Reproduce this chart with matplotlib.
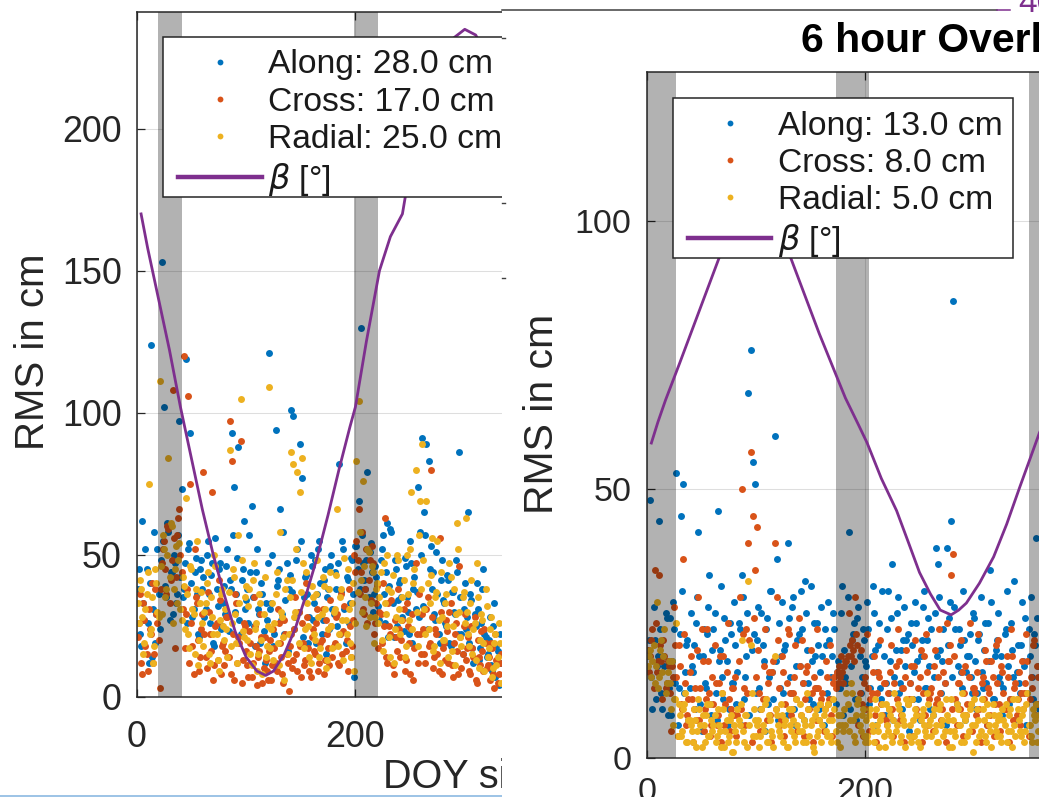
import numpy as np
import matplotlib
matplotlib.use('Agg')
import matplotlib.pyplot as plt
from matplotlib.patches import Rectangle
from matplotlib.lines import Line2D

W, H, DPI = 1039, 797, 100
C_ALONG, C_CROSS, C_RADIAL, C_BETA, C_AX = '#0072BD', '#D95319', '#EDB120', '#7E2F8E', '#262626'

plt.rcParams['font.family'] = ['Liberation Sans', 'DejaVu Sans']

# ---------------- data: left panel (odd days) ----------------
left_doy = np.arange(1, 334, 2)
left_along = [
    38, 22, 62, 27, 45, 12, 124, 31, 19, 52,
    24, 153, 102, 35, 58, 44, 29, 47, 36, 97,
    73, 38, 119, 52, 93, 28, 44, 36, 21, 48,
    42, 31, 55, 26, 47, 18, 38, 45, 24, 33,
    29, 52, 41, 93, 74, 36, 88, 22, 45, 31,
    38, 57, 67, 25, 44, 31, 19, 36, 12, 27,
    121, 33, 18, 94, 41, 66, 29, 22, 47, 38,
    101, 99, 28, 52, 89, 77, 35, 43, 19, 50,
    27, 48, 36, 55, 22, 41, 15, 38, 46, 31,
    44, 25, 82, 37, 52, 19, 41, 33, 48, 7,
    53, 69, 130, 47, 38, 79, 51, 44, 36, 42,
    32, 48, 57, 26, 61, 39, 58, 21, 45, 34,
    41, 28, 49, 35, 22, 47, 38, 31, 74, 58,
    91, 65, 89, 83, 53, 44, 27, 36, 19, 48,
    33, 25, 41, 18, 37, 29, 44, 86, 22, 31,
    24, 65, 36, 17, 29, 40, 13, 26, 45, 21,
    15, 28, 9, 33, 18, 4, 12]
left_cross = [
    21, 36, 8, 27, 15, 31, 22, 12, 38, 26,
    3, 47, 55, 36, 59, 41, 108, 17, 57, 66,
    44, 120, 29, 106, 75, 18, 52, 33, 9, 24,
    79, 14, 37, 22, 72, 11, 26, 41, 8, 19,
    16, 28, 97, 83, 6, 33, 21, 90, 13, 25,
    11, 23, 7, 35, 18, 14, 29, 5, 21, 9,
    16, 6, 24, 12, 31, 19, 8, 27, 15, 2,
    22, 13, 35, 9, 18, 26, 11, 40, 17, 7,
    24, 15, 31, 12, 20, 8, 27, 17, 34, 14,
    19, 29, 11, 36, 23, 16, 9, 25, 18, 50,
    55, 66, 44, 31, 38, 26, 48, 53, 22, 33,
    17, 29, 40, 63, 12, 25, 34, 8, 21, 38,
    14, 27, 9, 33, 19, 24, 6, 47, 12, 22,
    29, 15, 31, 18, 80, 10, 24, 15, 56, 8,
    19, 27, 12, 33, 7, 22, 16, 46, 10, 25,
    13, 21, 8, 17, 28, 5, 14, 23, 9, 19,
    11, 6, 17, 3, 13, 8, 15]
left_radial = [
    33, 41, 28, 19, 36, 75, 24, 12, 45, 30,
    111, 29, 52, 38, 84, 61, 26, 45, 33, 54,
    27, 39, 70, 22, 46, 31, 15, 55, 20, 37,
    18, 33, 44, 12, 28, 50, 22, 9, 36, 25,
    31, 14, 87, 26, 42, 19, 57, 105, 23, 35,
    20, 38, 11, 47, 26, 15, 33, 8, 42, 18,
    109, 24, 13, 36, 19, 58, 28, 6, 41, 22,
    86, 82, 30, 79, 72, 84, 17, 44, 25, 12,
    35, 20, 48, 14, 29, 39, 10, 24, 44, 17,
    31, 66, 22, 38, 13, 27, 45, 19, 33, 9,
    83, 104, 41, 76, 35, 52, 28, 46, 19, 38,
    26, 44, 16, 33, 50, 21, 37, 12, 28, 48,
    22, 35, 14, 50, 27, 72, 40, 80, 18, 69,
    89, 31, 69, 24, 43, 16, 35, 55, 12, 28,
    20, 36, 14, 42, 25, 11, 61, 30, 18, 37,
    63, 22, 33, 15, 26, 47, 10, 29, 19, 38,
    14, 24, 7, 19, 11, 26, 5]

# ---------------- data: left panel (even days) ----------------
left_doy_b = np.arange(2, 334, 2)
left_along_b = [
    45, 18, 33, 52, 26, 40, 14, 58, 29, 36,
    48, 55, 39, 61, 27, 44, 50, 33, 57, 42,
    35, 47, 26, 54, 40, 31, 49, 22, 45, 38,
    28, 50, 36, 43, 19, 56, 32, 47, 25, 39,
    46, 23, 38, 57, 30, 49, 27, 41, 62, 34,
    26, 44, 35, 18, 52, 29, 40, 23, 33, 47,
    31, 50, 22, 39, 45, 27, 58, 34, 16, 43,
    37, 24, 48, 30, 55, 21, 42, 36, 28, 46,
    33, 19, 52, 40, 27, 45, 35, 24, 50, 29,
    38, 47, 22, 55, 31, 42, 26, 49, 36, 53,
    45, 38, 57, 41, 48, 35, 54, 30, 46, 40,
    27, 52, 36, 44, 21, 59, 33, 48, 25, 40,
    35, 23, 46, 30, 55, 19, 42, 37, 28, 50,
    32, 57, 24, 45, 38, 29, 51, 22, 41, 34,
    26, 43, 19, 37, 30, 48, 22, 35, 15, 40,
    28, 19, 34, 12, 25, 31, 17, 38, 22, 14,
    20, 11, 25, 7, 16, 22]
left_cross_b = [
    26, 12, 33, 18, 9, 24, 40, 15, 29, 20,
    38, 52, 45, 60, 33, 48, 56, 42, 63, 50,
    31, 17, 38, 12, 26, 8, 35, 20, 14, 29,
    22, 10, 30, 16, 6, 25, 13, 34, 18, 11,
    28, 14, 8, 22, 36, 12, 19, 5, 26, 16,
    7, 19, 12, 25, 4, 16, 21, 10, 13, 6,
    20, 11, 17, 9, 26, 14, 5, 22, 12, 18,
    10, 24, 15, 30, 7, 19, 13, 28, 9, 21,
    16, 26, 9, 19, 31, 13, 22, 11, 25, 18,
    28, 12, 22, 15, 32, 20, 38, 14, 27, 44,
    48, 36, 58, 29, 52, 41, 34, 47, 26, 39,
    30, 19, 25, 14, 33, 22, 11, 27, 16, 24,
    20, 31, 13, 25, 8, 29, 17, 22, 36, 15,
    24, 12, 35, 19, 28, 14, 22, 9, 30, 17,
    13, 23, 30, 11, 19, 26, 8, 21, 15, 29,
    17, 9, 25, 14, 6, 20, 11, 16, 24, 10,
    14, 19, 8, 22, 5, 12]
left_radial_b = [
    26, 38, 15, 31, 44, 22, 35, 18, 40, 28,
    46, 57, 35, 50, 42, 60, 38, 53, 48, 31,
    42, 24, 36, 17, 45, 29, 38, 11, 33, 26,
    30, 40, 15, 35, 22, 46, 13, 27, 38, 20,
    24, 37, 18, 45, 29, 12, 33, 48, 21, 39,
    32, 15, 41, 24, 9, 36, 20, 29, 14, 25,
    17, 33, 26, 44, 11, 30, 21, 38, 15, 35,
    41, 28, 52, 19, 37, 47, 24, 33, 14, 39,
    22, 36, 28, 17, 42, 31, 13, 38, 25, 30,
    43, 18, 35, 27, 49, 22, 31, 14, 40, 26,
    37, 58, 30, 46, 25, 51, 33, 44, 28, 40,
    35, 20, 47, 29, 38, 14, 43, 24, 50, 31,
    27, 41, 18, 36, 52, 24, 45, 30, 57, 38,
    48, 22, 40, 33, 56, 18, 37, 27, 44, 20,
    33, 25, 47, 16, 38, 29, 52, 21, 35, 26,
    30, 18, 41, 24, 13, 35, 20, 27, 9, 32,
    17, 28, 10, 22, 14, 19]

left_beta_doy = [4, 10, 20, 30, 40, 50, 60, 70, 80, 90, 100, 110, 118, 125, 135, 145, 155, 165,
                 175, 185, 195, 200, 210, 222, 232, 243, 250, 260, 270, 280, 290, 300, 310, 320, 330, 340]
left_beta = [170, 158, 140, 122, 102, 84, 66, 50, 36, 23, 14, 9, 7.5, 9, 15, 24, 36, 49,
             64, 80, 95, 102, 125, 150, 162, 170, 186, 204, 217, 226, 232, 235, 233, 226, 215, 200]
left_bands = [(19.5, 41.0), (199.0, 221.0)]
left_labels = ['Along: 28.0 cm', 'Cross: 17.0 cm', 'Radial: 25.0 cm', r'$\beta$ [°]']

# ---------------- data: right panel (odd days) ----------------
right_doy = np.arange(1, 360, 2)
right_along = [
    19, 48, 9, 22, 17, 44, 12, 19, 27, 8,
    26, 18, 24, 53, 13, 45, 51, 16, 22, 13,
    17, 21, 25, 42, 10, 19, 14, 23, 34, 8,
    24, 12, 46, 20, 15, 26, 18, 9, 23, 14,
    21, 16, 24, 34, 11, 19, 68, 76, 55, 51,
    22, 13, 27, 18, 24, 10, 31, 16, 60, 37,
    25, 19, 12, 21, 40, 15, 28, 9, 17, 23,
    31, 14, 33, 20, 11, 18, 25, 13, 21, 16,
    19, 24, 12, 22, 15, 27, 10, 18, 13, 32,
    20, 14, 42, 17, 23, 11, 26, 19, 15, 22,
    17, 24, 13, 32, 20, 16, 25, 11, 19, 14,
    31, 18, 36, 15, 27, 12, 20, 22, 17, 23,
    14, 21, 16, 25, 11, 19, 28, 13, 22, 17,
    24, 15, 39, 36, 20, 18, 14, 39, 26, 44,
    85, 24, 17, 21, 13, 22, 16, 19, 15, 27,
    18, 12, 23, 16, 20, 14, 25, 35, 11, 19,
    22, 15, 19, 13, 24, 17, 11, 20, 33, 16,
    14, 21, 18, 26, 12, 19, 15, 23, 41, 17]
right_cross = [
    20, 19, 24, 35, 16, 34, 18, 22, 13, 18,
    12, 17, 28, 15, 21, 10, 37, 14, 8, 16,
    11, 9, 7, 30, 13, 18, 9, 24, 12, 6,
    10, 14, 8, 19, 12, 6, 16, 11, 9, 13,
    15, 8, 30, 50, 13, 24, 40, 57, 45, 35,
    43, 12, 9, 17, 11, 14, 8, 16, 40, 30,
    13, 7, 16, 10, 24, 12, 9, 15, 11, 26,
    8, 14, 11, 17, 9, 12, 15, 7, 13, 10,
    12, 9, 15, 11, 8, 14, 13, 14, 15, 16,
    17, 18, 27, 19, 20, 30, 21, 12, 10, 14,
    9, 13, 11, 16, 8, 12, 15, 10, 14, 7,
    12, 16, 9, 14, 11, 18, 8, 13, 15, 10,
    14, 11, 17, 9, 13, 20, 12, 8, 16, 11,
    13, 17, 10, 15, 12, 9, 14, 25, 18, 34,
    38, 11, 14, 9, 16, 12, 8, 15, 10, 13,
    12, 16, 9, 14, 11, 18, 13, 8, 15, 10,
    14, 10, 17, 12, 9, 15, 11, 19, 13, 8,
    16, 12, 9, 14, 18, 11, 13, 22, 10, 15]
right_radial = [
    17, 20, 18, 14, 29, 15, 22, 19, 12, 16,
    14, 18, 11, 25, 10, 4, 9, 12, 3, 7,
    5, 9, 2, 11, 6, 8, 3, 10, 4, 7,
    6, 3, 9, 5, 12, 2, 7, 4, 8, 1,
    5, 9, 6, 22, 3, 8, 33, 21, 4, 7,
    6, 2, 9, 5, 11, 3, 7, 4, 19, 8,
    5, 10, 3, 7, 2, 6, 9, 4, 11, 5,
    8, 3, 6, 12, 4, 7, 1, 9, 5, 10,
    6, 9, 4, 7, 3, 11, 5, 8, 2, 6,
    9, 12, 5, 14, 7, 3, 10, 6, 8, 4,
    7, 3, 9, 5, 11, 6, 2, 8, 4, 10,
    5, 8, 3, 12, 6, 9, 4, 7, 2, 10,
    6, 11, 4, 8, 3, 7, 9, 5, 12, 6,
    4, 9, 6, 3, 10, 7, 5, 8, 2, 11,
    7, 4, 9, 6, 12, 3, 8, 5, 10, 1,
    6, 9, 4, 11, 7, 3, 8, 5, 10, 6,
    4, 8, 3, 7, 10, 5, 9, 2, 6, 11,
    7, 4, 9, 5, 12, 6, 3, 8, 10, 5]

# ---------------- data: right panel (even days) ----------------
right_doy_b = np.arange(2, 361, 2)
right_along_b = [
    22, 15, 28, 11, 19, 24, 9, 17, 26, 13,
    8, 29, 14, 6, 23, 31, 12, 21, 7, 27,
    16, 9, 30, 19, 5, 24, 13, 28, 10, 20,
    27, 7, 18, 32, 11, 22, 6, 25, 14, 29,
    10, 25, 6, 30, 15, 27, 8, 20, 23, 12,
    28, 9, 21, 5, 26, 15, 31, 11, 18, 7,
    13, 29, 20, 8, 26, 12, 30, 6, 22, 17,
    24, 7, 27, 14, 32, 10, 19, 25, 9, 28,
    6, 21, 29, 11, 19, 24, 16, 13, 27, 8,
    15, 30, 9, 22, 25, 7, 28, 12, 24, 18,
    29, 10, 19, 27, 6, 21, 13, 31, 8, 24,
    12, 26, 7, 20, 30, 14, 9, 28, 22, 5,
    25, 11, 29, 18, 7, 22, 31, 13, 26, 9,
    8, 27, 19, 30, 12, 24, 6, 21, 29, 15,
    28, 10, 24, 16, 31, 7, 19, 23, 12, 26,
    9, 22, 30, 13, 25, 6, 18, 29, 11, 20,
    27, 14, 8, 23, 31, 10, 25, 15, 7, 21,
    12, 29, 17, 6, 24, 30, 11, 21, 26, 9]
right_cross_b = [
    16, 22, 13, 25, 18, 21, 11, 19, 14, 17,
    5, 15, 21, 4, 17, 9, 23, 6, 11, 19,
    3, 13, 20, 7, 24, 5, 11, 18, 4, 15,
    21, 6, 14, 3, 19, 10, 25, 5, 13, 8,
    4, 18, 9, 23, 6, 12, 22, 3, 26, 15,
    20, 5, 11, 24, 7, 16, 3, 18, 9, 22,
    6, 19, 4, 14, 23, 8, 12, 21, 5, 17,
    22, 4, 16, 9, 20, 3, 13, 24, 7, 11,
    5, 18, 10, 21, 4, 15, 16, 17, 19, 14,
    18, 19, 21, 22, 18, 23, 6, 20, 4, 15,
    23, 5, 12, 19, 3, 16, 22, 8, 14, 6,
    9, 21, 4, 17, 24, 7, 13, 3, 20, 11,
    17, 4, 22, 8, 15, 3, 19, 23, 6, 12,
    5, 20, 11, 24, 7, 16, 3, 18, 21, 9,
    19, 6, 14, 22, 4, 17, 10, 25, 5, 13,
    8, 23, 3, 15, 20, 6, 12, 18, 4, 21,
    22, 5, 16, 9, 19, 3, 24, 7, 14, 11,
    6, 18, 12, 23, 4, 15, 21, 8, 17, 10]
right_radial_b = [
    19, 15, 21, 17, 13, 20, 16, 24, 14, 18,
    9, 6, 11, 4, 8, 5, 10, 3, 7, 6,
    3, 7, 5, 9, 2, 6, 8, 4, 10, 5,
    8, 4, 6, 2, 9, 5, 3, 7, 1, 6,
    3, 7, 10, 5, 8, 2, 6, 12, 9, 4,
    7, 4, 6, 10, 3, 8, 5, 2, 9, 6,
    4, 8, 6, 2, 9, 5, 7, 3, 6, 10,
    5, 7, 3, 9, 6, 2, 8, 4, 7, 3,
    8, 5, 10, 4, 7, 9, 3, 6, 8, 5,
    6, 10, 7, 12, 4, 8, 11, 5, 9, 3,
    4, 8, 6, 3, 9, 5, 7, 10, 2, 6,
    9, 4, 7, 5, 10, 3, 8, 6, 11, 4,
    3, 7, 9, 5, 2, 8, 6, 4, 10, 7,
    8, 5, 3, 9, 6, 4, 11, 7, 5, 2,
    5, 10, 6, 3, 8, 7, 4, 9, 6, 11,
    3, 7, 5, 9, 4, 10, 6, 2, 8, 5,
    7, 4, 9, 6, 3, 8, 5, 11, 4, 9,
    5, 8, 3, 10, 6, 4, 9, 7, 3, 8]

right_beta_doy = [4, 10, 17, 30, 42, 54, 66, 78, 90, 99, 108, 120, 132, 145, 158, 170, 182, 194,
                  202, 215, 229, 240, 250, 260, 269, 279, 286, 293, 305, 318, 330, 342, 352, 360, 370]
right_beta = [58.6, 62.5, 66.6, 73.5, 80, 86.5, 93, 99, 104, 106, 104, 99, 93, 86, 79, 73, 67, 62,
              58.6, 52, 46, 40, 34.5, 30.5, 27.5, 26.6, 27.5, 28.8, 32.5, 37.4, 43.5, 50.4, 56, 60.5, 65]
right_bands = [(0.0, 26.3), (173.5, 204.0), (350.0, 420.0)]
right_labels = ['Along: 13.0 cm', 'Cross: 8.0 cm', 'Radial: 5.0 cm', r'$\beta$ [°]']

# ---------------- figure ----------------
fig = plt.figure(figsize=(W / DPI, H / DPI), dpi=DPI)


def fx(x):
    return x / W


def fy(y):
    return 1 - y / H


def make_ax(x0, ytop, ybot, xpu, xmax, z):
    ax = fig.add_axes([fx(x0), fy(ybot), xmax * xpu / W, (ybot - ytop) / H])
    ax.set_zorder(z)
    return ax


def draw_panel(ax, xmax, ymax, doy, along, cross, radial, doy_b, along_b, cross_b, radial_b,
               bdoy, bval, bands, labels, yticks, fs_tick, xpad, ypad, leg_xy, leg_box):
    ax.grid(True, color=C_AX, alpha=0.15, lw=0.75)
    ax.set_axisbelow(True)
    ms = 5.0
    d_all = np.concatenate([doy, doy_b])
    h1, = ax.plot(d_all, np.concatenate([along, along_b]), 'o', ms=ms, mew=0, color=C_ALONG, zorder=2)
    h2, = ax.plot(d_all, np.concatenate([cross, cross_b]), 'o', ms=ms, mew=0, color=C_CROSS, zorder=2.1)
    h3, = ax.plot(d_all, np.concatenate([radial, radial_b]), 'o', ms=ms, mew=0, color=C_RADIAL, zorder=2.2)
    for a, b in bands:
        ax.axvspan(a, b, color='k', alpha=0.3, lw=0, zorder=2.5)
    h4, = ax.plot(bdoy, bval, color=C_BETA, lw=2.0, zorder=3)
    ax.set_xticks([0, 200, 400])
    ax.set_yticks(yticks)
    ax.set_xlim(0, xmax)
    ax.set_ylim(0, ymax)
    ax.tick_params(direction='in', top=True, right=True, length=6, width=0.9,
                   color=C_AX, labelcolor=C_AX, labelsize=fs_tick)
    ax.tick_params(axis='x', pad=xpad)
    ax.tick_params(axis='y', pad=ypad)
    for s in ax.spines.values():
        s.set_color(C_AX)
        s.set_linewidth(1.1)
    x0, y0, x1, y1 = leg_box
    rect = Rectangle((fx(x0), fy(y1)), (x1 - x0) / W, (y1 - y0) / H, transform=fig.transFigure,
                     facecolor='white', edgecolor=C_AX, lw=1.1, zorder=4.5, clip_on=False)
    ax.add_artist(rect)
    leg = ax.legend([h1, h2, h3, h4], labels, loc='upper left',
                    bbox_to_anchor=(fx(leg_xy[0]), fy(leg_xy[1])), bbox_transform=fig.transFigure,
                    frameon=False, borderpad=0, borderaxespad=0, handlelength=2.48,
                    handletextpad=0.2, labelspacing=0.18, fontsize=24.2)
    leg.set_zorder(5)
    for ln in leg.get_lines()[:3]:
        ln.set_markersize(4.2)
    leg.get_lines()[-1].set_linewidth(3.2)
    for t in leg.get_texts():
        t.set_color('#1a1a1a')
    return leg


axL = make_ax(136.7, 11.7, 696.7, 1.0935, 366, 1)
draw_panel(axL, 366, 241.2, left_doy, left_along, left_cross, left_radial,
           left_doy_b, left_along_b, left_cross_b, left_radial_b,
           left_beta_doy, left_beta, left_bands, left_labels, [0, 50, 100, 150, 200],
           25.8, 16.5, 10.8, (178.3, 49.5), (163.3, 36.7, 570, 196.7))

# white cover for the cropped part (right screenshot)
fig.add_artist(Rectangle((fx(501.7), 0), (W - 501.7) / W, 1, transform=fig.transFigure,
                         facecolor='white', edgecolor='none', zorder=2))

axR = make_ax(647.0, 72.0, 757.7, 1.09, 380, 3)
draw_panel(axR, 380, 127.7, right_doy, right_along, right_cross, right_radial,
           right_doy_b, right_along_b, right_cross_b, right_radial_b,
           right_beta_doy, right_beta, right_bands, right_labels, [0, 50, 100],
           24.5, 13.7, 11.0, (688.0, 111.0), (672.7, 97.7, 1013.0, 257.7))

# texts
fig.text(fx(33), fy(351.5), 'RMS in cm', rotation=90, ha='center', va='center',
         fontsize=29, color=C_AX, zorder=1.5)
fig.text(fx(383), fy(788), 'DOY since launch', ha='left', va='baseline',
         fontsize=28.5, color=C_AX, zorder=1.5)
fig.text(fx(542), fy(414), 'RMS in cm', rotation=90, ha='center', va='center',
         fontsize=29.5, color=C_AX, zorder=4)
fig.text(fx(800.7), fy(52.5), '6 hour Overlap', ha='left', va='baseline',
         fontsize=29.4, fontweight='bold', color='black', zorder=4)
fig.text(fx(1018), fy(12), '40', ha='left', va='baseline', fontsize=24, color=C_BETA, zorder=4)

# remnants of neighbouring subplots
fig.add_artist(Line2D([fx(501.7), fx(997)], [fy(10), fy(10)], color='#404040', lw=1.1, zorder=4))
fig.add_artist(Line2D([fx(997), fx(1010)], [fy(10), fy(10)], color=C_BETA, lw=1.1, zorder=4))
for yy in (38, 203, 278):
    fig.add_artist(Line2D([fx(501.7), fx(505)], [fy(yy), fy(yy)], color='#404040', lw=1.0, zorder=4))
fig.add_artist(Line2D([0, fx(501.7)], [fy(795.8), fy(795.8)], color='#9cc3e6', lw=1.4, zorder=1.5))

fig.savefig('out.png', dpi=DPI)
